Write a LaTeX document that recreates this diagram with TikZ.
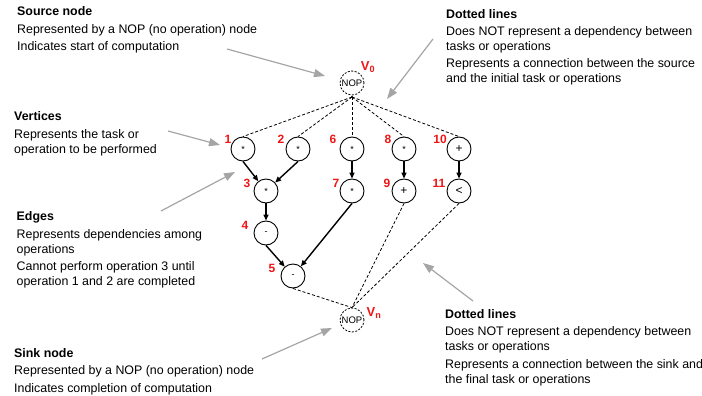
\documentclass[tikz,border=0pt]{standalone}
\usepackage{fontspec}
\setmainfont{Liberation Sans}
\usetikzlibrary{arrows.meta}
\definecolor{lblred}{RGB}{240,20,20}
\definecolor{annogray}{RGB}{165,165,165}
\begin{document}
\begin{tikzpicture}[x=1pt,y=-1pt,
  op/.style={circle,draw,line width=0.9pt,minimum size=24pt,inner sep=0pt,font=\fontsize{9}{9}\selectfont},
  bigop/.style={op,font=\fontsize{12}{12}\selectfont},
  nop/.style={circle,draw,dash pattern=on 2pt off 1.5pt,line width=0.8pt,minimum size=24pt,inner sep=0pt,font=\fontsize{9.5}{9.5}\selectfont},
  lab/.style={text=lblred,font=\bfseries\fontsize{12}{12}\selectfont,inner sep=0pt},
  vlab/.style={text=lblred,font=\bfseries\fontsize{13}{13}\selectfont,inner sep=0pt},
  dep/.style={-{Triangle[length=6pt,width=5pt]},line width=1.4pt},
  dots/.style={dash pattern=on 3pt off 2pt,line width=0.8pt},
  anno/.style={-{Triangle[length=11pt,width=8pt]},line width=1.2pt,draw=annogray},
  txt/.style={anchor=base west,align=left,inner sep=0pt,font=\fontsize{12.4}{15}\selectfont}
]
\useasboundingbox (0,0) rectangle (702,396);

% graph nodes
\node[nop] (src) at (352,83) {NOP};
\node[nop] (snk) at (352,320) {NOP};
\coordinate (sdot) at (352,97);
\node[op] (n1) at (243,149) {*};
\node[op] (n2) at (298,149) {*};
\node[op] (n6) at (352,149) {*};
\node[op] (n8) at (404,149) {*};
\node[bigop] (n10) at (459,149) {+};
\node[op] (n3) at (266,191) {*};
\node[op] (n7) at (352,191) {*};
\node[bigop] (n9) at (404,191) {+};
\node[bigop] (n11) at (459,191) {<};
\node[op] (n4) at (266,233) {-};
\node[op] (n5) at (293,276) {-};

% red labels
\node[lab] (l1) at (228,139) {1};
\node[lab] (l2) at (281,139) {2};
\node[lab] (l6) at (333,139) {6};
\node[lab] (l8) at (388,139) {8};
\node[lab] (l10) at (440,139) {10};
\node[lab] (l3) at (247,183) {3};
\node[lab] (l7) at (336,183) {7};
\node[lab] (l9) at (387,183) {9};
\node[lab] (l11) at (439,183) {11};
\node[lab] (l4) at (245,225) {4};
\node[lab] (l5) at (272,268) {5};
\node[vlab] (v0) at (368,67) {V\textsubscript{0}};
\node[vlab] (vn) at (374,313) {V\textsubscript{n}};

% dotted lines
\fill (sdot) circle (1.2pt);
\foreach \t in {n1,n2,n6,n8,n10} \draw[dots] (sdot) -- (\t.north);
\foreach \t in {n5,n9,n11} \draw[dots] (\t.south) -- (snk.north);

% dependency edges
\draw[dep] (n1.south) -- (n3);
\draw[dep] (n2.south) -- (n3);
\draw[dep] (n6) -- (n7);
\draw[dep] (n8) -- (n9);
\draw[dep] (n10) -- (n11);
\draw[dep] (n3) -- (n4);
\draw[dep] (n4.south) -- (n5);
\draw[dep] (n7.south) -- (n5);

% text blocks (anchored at the baseline of their last line)
\node[txt] (tsrc) at (17,51) {\textbf{Source node}\\[2.5pt]Represented by a NOP (no operation) node\\[2.5pt]Indicates start of computation};
\node[txt] (tver) at (14,153.3) {\textbf{Vertices}\\[2.5pt]Represents the task or\\operation to be performed};
\node[txt] (tedg) at (16.5,285.7) {\textbf{Edges}\\[2.5pt]Represents dependencies among\\operations\\[2.5pt]Cannot perform operation 3 until\\operation 1 and 2 are completed};
\node[txt] (tsnk) at (14,392.3) {\textbf{Sink node}\\[2.5pt]Represented by a NOP (no operation) node\\[2.5pt]Indicates completion of computation};
\node[txt] (tdt1) at (446,83) {\textbf{Dotted lines}\\[2.5pt]Does NOT represent a dependency between\\tasks or operations\\[2.5pt]Represents a connection between the source\\and the initial task or operations};
\node[txt] (tdt2) at (445,383.3) {\textbf{Dotted lines}\\[2.5pt]Does NOT represent a dependency between\\tasks or operations\\[2.5pt]Represents a connection between the sink and\\the final task or operations};

% annotation arrows
\coordinate (a1s) at (227,49);   \coordinate (a1e) at (325,76);
\coordinate (a2s) at (433,39);   \coordinate (a2e) at (387,99);
\coordinate (a3s) at (168,131);  \coordinate (a3e) at (220,145);
\coordinate (a4s) at (161,211);  \coordinate (a4e) at (235,172);
\coordinate (a5s) at (262,359);  \coordinate (a5e) at (332,328);
\coordinate (a6s) at (473,301);  \coordinate (a6e) at (423,263);
\draw[anno] (a1s) -- (a1e);
\draw[anno] (a2s) -- (a2e);
\draw[anno] (a3s) -- (a3e);
\draw[anno] (a4s) -- (a4e);
\draw[anno] (a5s) -- (a5e);
\draw[anno] (a6s) -- (a6e);
\end{tikzpicture}
\end{document}
